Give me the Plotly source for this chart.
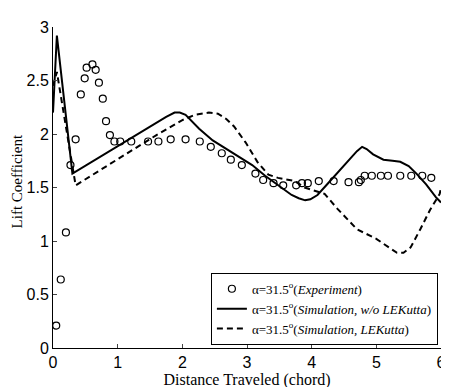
import plotly.graph_objects as go

# Experimental lift coefficient (circles)
exp_x = [0.05, 0.12, 0.20, 0.27, 0.35, 0.43, 0.49, 0.52, 0.61, 0.66, 0.71, 0.77, 0.82, 0.88,
         0.95, 1.04, 1.21, 1.47, 1.63, 1.82, 2.05, 2.27, 2.44, 2.61, 2.75, 2.92, 3.13,
         3.25, 3.41, 3.56, 3.76, 3.85, 3.94, 4.11, 4.34, 4.57, 4.73, 4.76, 4.82, 4.93,
         5.07, 5.18, 5.37, 5.54, 5.71, 5.85]
exp_y = [0.21, 0.64, 1.08, 1.71, 1.95, 2.37, 2.52, 2.62, 2.65, 2.60, 2.48, 2.33, 2.12, 1.99,
         1.93, 1.93, 1.93, 1.93, 1.93, 1.95, 1.95, 1.93, 1.88, 1.82, 1.76, 1.71, 1.63,
         1.57, 1.54, 1.52, 1.52, 1.54, 1.54, 1.56, 1.56, 1.55, 1.55, 1.57, 1.61, 1.61,
         1.61, 1.61, 1.61, 1.61, 1.61, 1.59]

# Simulation without LE Kutta (solid)
sim1_x = [0.0, 0.06, 0.30, 1.60, 1.75, 1.88, 1.96, 2.05, 2.15, 2.26, 2.47, 2.78, 3.08, 3.28,
          3.54, 3.69, 3.80, 3.90, 3.98, 4.09, 4.24, 4.50, 4.70, 4.78, 4.85, 4.95, 5.11,
          5.25, 5.37, 5.50, 5.62, 5.77, 5.92, 6.0]
sim1_y = [2.20, 2.92, 1.63, 2.11, 2.16, 2.20, 2.20, 2.18, 2.12, 2.05, 1.94, 1.82, 1.71, 1.61,
          1.50, 1.43, 1.40, 1.38, 1.39, 1.43, 1.53, 1.71, 1.84, 1.88, 1.86, 1.81, 1.76,
          1.75, 1.74, 1.70, 1.63, 1.53, 1.41, 1.36]

# Simulation with LE Kutta (dashed)
sim2_x = [0.0, 0.06, 0.35, 1.60, 2.00, 2.20, 2.41, 2.55, 2.68, 2.80, 2.98, 3.16, 3.33, 3.48,
          3.74, 3.89, 4.20, 4.40, 4.70, 5.00, 5.22, 5.32, 5.42, 5.53, 5.68, 5.83, 5.98, 6.0]
sim2_y = [2.45, 2.58, 1.52, 1.99, 2.13, 2.18, 2.20, 2.19, 2.14, 2.07, 1.92, 1.74, 1.62, 1.59,
          1.56, 1.50, 1.44, 1.30, 1.11, 1.02, 0.93, 0.89, 0.89, 0.94, 1.11, 1.29, 1.44, 1.50]

x_ticks = [0, 1, 2, 3, 4, 5, 6]
y_ticks = [0, 0.5, 1, 1.5, 2, 2.5, 3]
y_tick_text = ["0", "0.5", "1", "1.5", "2", "2.5", "3"]

serif = "Liberation Serif"
sans = "Liberation Sans"

fig = go.Figure()
fig.add_trace(go.Scatter(
    x=exp_x, y=exp_y, mode="markers",
    marker=dict(symbol="circle-open", size=7, color="black", line=dict(width=1.2)),
    name="α=31.5<sup>o</sup>(<i>Experiment</i>)"))
fig.add_trace(go.Scatter(
    x=sim1_x, y=sim1_y, mode="lines", line=dict(color="black", width=2),
    name="α=31.5<sup>o</sup>(<i>Simulation, w/o LEKutta</i>)"))
fig.add_trace(go.Scatter(
    x=sim2_x, y=sim2_y, mode="lines",
    line=dict(color="black", width=2, dash="6px,4px"),
    name="α=31.5<sup>o</sup>(<i>Simulation, LEKutta</i>)"))

fig.update_layout(
    width=449, height=387,
    margin=dict(l=45, r=11, t=13, b=42),
    plot_bgcolor="white", paper_bgcolor="white",
    showlegend=True,
    legend=dict(x=0.992, y=0.01, xanchor="right", yanchor="bottom",
                bordercolor="black", borderwidth=1, bgcolor="white",
                font=dict(family=serif, size=13, color="black"),
                tracegroupgap=0, itemwidth=30),
    xaxis=dict(range=[0, 6], tickvals=x_ticks, ticks="inside", ticklen=4,
               showgrid=False, zeroline=False, showline=True, linecolor="black",
               linewidth=1, tickfont=dict(family=sans, size=16, color="black"),
               title=dict(text="Distance Traveled (chord)", standoff=2,
                          font=dict(family=serif, size=16, color="black"))),
    yaxis=dict(range=[0, 3], tickvals=y_ticks, ticktext=y_tick_text, ticks="inside",
               ticklen=4, showgrid=False, zeroline=False, showline=True,
               linecolor="black", linewidth=1,
               tickfont=dict(family=sans, size=16, color="black")),
    annotations=[dict(text="Lift Coefficient", xref="paper", yref="paper",
                      x=-0.092, y=0.52, xanchor="center", yanchor="middle",
                      textangle=-90, showarrow=False,
                      font=dict(family=serif, size=15, color="black"))],
)

fig.write_html("out.html")
